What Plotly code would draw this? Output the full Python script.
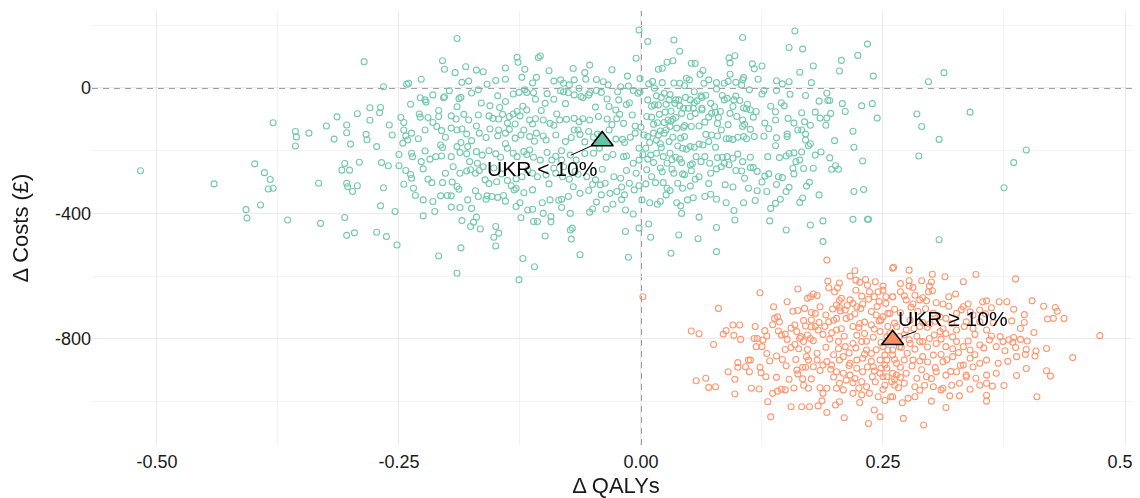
import plotly.graph_objects as go

# ---- Data (Δ QALYs, Δ Costs £) ----
green_pts = [
    # far left
    (-0.517,-264),(-0.441,-306),(-0.399,-242),(-0.389,-270),(-0.383,-292),(-0.385,-322),(-0.380,-320),
    (-0.393,-373),(-0.408,-388),(-0.407,-415),(-0.380,-111),(-0.357,-139),(-0.356,-156),(-0.357,-185),
    (-0.343,-144),(-0.365,-421),(-0.333,-304),(-0.331,-432),(-0.325,-121),(-0.314,-92),(-0.317,-163),
    (-0.304,-118),(-0.304,-143),(-0.300,-179),(-0.293,-82),(-0.286,84),(-0.284,-148),(-0.283,-165),
    (-0.280,-63),(-0.280,-103),(-0.306,-241),(-0.309,-262),(-0.301,-262),(-0.291,-237),(-0.304,-304),
    (-0.303,-315),(-0.293,-312),(-0.298,-330),(-0.306,-413),(-0.304,-470),(-0.296,-462),
    # left-centre
    (-0.190,158),(-0.205,87),(-0.203,60),(-0.192,49),(-0.181,68),(-0.178,22),(-0.163,52),(-0.159,12),
    (-0.140,28),(-0.128,98),(-0.127,82),(-0.120,60),(-0.123,34),(-0.108,34),(-0.106,97),(-0.104,102),
    (-0.266,4),(-0.242,12),(-0.240,15),(-0.227,28),(-0.083,26),(-0.080,15),(-0.074,10),(-0.069,26),
    (-0.064,-1),(-0.058,49),(-0.057,28),(-0.053,73),(-0.054,-22),(-0.039,20),(-0.034,10),(-0.014,38),
    (-0.005,95),(-0.002,185),(-0.024,-12),(-0.021,4),(-0.013,6),(-0.008,-8),(-0.001,-12),
    (-0.228,-31),(-0.223,-38),(-0.222,-45),(-0.204,-31),(-0.203,-28),(-0.198,-9),(-0.188,-34),(-0.186,-30),
    (-0.168,-6),(-0.156,-57),(-0.146,-62),(-0.140,-43),(-0.132,-19),(-0.126,-14),(-0.120,-6),(-0.118,-14),
    (-0.111,-15),(-0.109,-36),(-0.099,-49),(-0.090,-36),(-0.083,-9),(-0.080,-12),(-0.075,-15),(-0.069,-22),
    (-0.060,-31),(-0.053,-15),(-0.046,-8),(-0.035,-35),(-0.023,-38),(-0.033,-59),(-0.026,-70),(-0.012,-47),
    (-0.003,-17),(-0.269,-62),
    (-0.270,-79),(-0.248,-94),(-0.245,-110),(-0.229,-83),(-0.228,-93),(-0.220,-94),(-0.209,-72),(-0.209,-91),
    (-0.196,-89),(-0.191,-99),(-0.183,-84),(-0.178,-102),(-0.168,-86),(-0.157,-89),(-0.153,-97),(-0.147,-99),
    (-0.143,-84),(-0.136,-91),(-0.132,-83),(-0.128,-75),(-0.125,-89),(-0.118,-70),(-0.115,-102),(-0.112,-115),
    (-0.109,-98),(-0.103,-72),(-0.101,-102),(-0.094,-113),(-0.087,-83),(-0.084,-102),(-0.077,-100),(-0.069,-97),
    (-0.060,-98),(-0.053,-102),(-0.044,-91),(-0.035,-99),(-0.025,-98),(-0.022,-84),(-0.018,-113),(-0.009,-86),
    (-0.006,-121),(-0.000,-125),
    (-0.257,-150),(-0.245,-134),(-0.243,-153),(-0.237,-144),(-0.246,-176),(-0.241,-166),(-0.223,-134),(-0.211,-123),
    (-0.206,-136),(-0.207,-182),(-0.202,-157),(-0.196,-128),(-0.190,-134),(-0.185,-131),(-0.186,-174),(-0.180,-147),
    (-0.167,-144),(-0.160,-158),(-0.156,-131),(-0.148,-153),(-0.147,-134),(-0.140,-144),(-0.140,-178),(-0.136,-132),
    (-0.130,-115),(-0.124,-150),(-0.121,-134),(-0.115,-155),(-0.108,-144),(-0.101,-153),(-0.098,-166),(-0.088,-150),
    (-0.078,-171),(-0.069,-134),(-0.065,-134),(-0.063,-148),(-0.054,-139),(-0.049,-157),(-0.045,-147),(-0.041,-150),
    (-0.033,-134),(-0.019,-164),(-0.017,-174),(-0.011,-157),(-0.006,-144),(-0.002,-192),
    (-0.273,-187),(-0.268,-238),(-0.261,-248),(-0.250,-248),(-0.243,-263),(-0.237,-208),(-0.236,-219),(-0.227,-235),
    (-0.223,-201),(-0.218,-227),(-0.205,-190),(-0.206,-217),(-0.196,-219),(-0.194,-251),(-0.190,-187),(-0.187,-206),
    (-0.179,-187),(-0.177,-235),(-0.170,-203),(-0.169,-240),(-0.164,-214),(-0.163,-251),(-0.157,-200),(-0.150,-210),
    (-0.138,-192),(-0.132,-208),(-0.128,-219),(-0.121,-203),(-0.115,-198),(-0.111,-221),(-0.104,-230),(-0.097,-206),
    (-0.092,-230),(-0.082,-200),(-0.082,-230),(-0.080,-251),(-0.073,-214),(-0.067,-230),(-0.049,-208),(-0.043,-192),
    (-0.029,-212),(-0.018,-219),(-0.015,-217),(-0.008,-240),(-0.002,-230),
    (-0.238,-276),(-0.237,-288),(-0.220,-291),(-0.216,-302),(-0.205,-302),(-0.202,-272),(-0.195,-300),(-0.187,-272),
    (-0.176,-261),(-0.171,-272),(-0.167,-263),(-0.161,-293),(-0.149,-299),(-0.144,-274),(-0.138,-295),(-0.129,-290),
    (-0.129,-320),(-0.123,-283),(-0.112,-272),(-0.107,-283),(-0.098,-277),(-0.088,-272),(-0.081,-283),(-0.074,-291),
    (-0.065,-275),(-0.056,-283),(-0.047,-293),(-0.042,-309),(-0.037,-304),(-0.028,-283),(-0.021,-288),(-0.012,-304),
    (-0.005,-272),(-0.002,-312),
    (-0.266,-318),(-0.235,-320),(-0.233,-343),(-0.225,-357),(-0.207,-344),(-0.200,-343),(-0.196,-344),(-0.188,-323),
    (-0.187,-381),(-0.179,-357),(-0.171,-328),(-0.168,-346),(-0.159,-344),(-0.154,-346),(-0.148,-349),(-0.142,-343),
    (-0.140,-361),(-0.131,-325),(-0.121,-334),(-0.112,-325),(-0.102,-366),(-0.094,-357),(-0.082,-355),(-0.075,-346),
    (-0.063,-336),(-0.054,-327),(-0.041,-341),(-0.032,-336),(-0.025,-330),(-0.017,-341),(-0.007,-325),
    (-0.269,-376),(-0.254,-394),(-0.225,-408),(-0.213,-394),(-0.196,-380),(-0.185,-423),(-0.175,-384),(-0.170,-412),
    (-0.173,-428),(-0.176,-442),(-0.166,-450),(-0.150,-442),(-0.147,-463),(-0.152,-476),(-0.129,-378),(-0.124,-414),
    (-0.117,-389),(-0.112,-387),(-0.111,-426),(-0.107,-426),(-0.101,-400),(-0.093,-410),(-0.093,-427),(-0.082,-381),
    (-0.073,-400),(-0.071,-447),(-0.053,-396),(-0.050,-386),(-0.036,-387),(-0.029,-371),(-0.016,-389),(-0.008,-402),
    (-0.002,-447),
    (-0.273,-460),(-0.263,-474),(-0.252,-501),(-0.209,-536),(-0.186,-510),(-0.190,-591),(-0.150,-504),(-0.122,-544),
    (-0.126,-612),(-0.110,-570),(-0.099,-472),(-0.073,-453),(-0.072,-482),(-0.063,-532),(-0.016,-458),(-0.013,-540),
    # right-centre
    (0.007,148),(0.034,153),(0.040,117),(0.018,60),(0.027,82),(0.033,87),(0.052,79),(0.056,78),(0.091,96),
    (0.097,103),(0.092,80),(0.105,161),(0.115,77),(0.106,33),(0.105,26),(0.104,9),(0.090,21),(0.092,44),
    (0.086,15),(0.078,17),(0.078,-3),(0.061,44),(0.065,15),(0.047,31),(0.050,26),(0.045,7),(0.034,16),
    (0.022,17),(0.008,13),(-0.001,30),(0.121,28),
    (0.014,-1),(0.016,-25),(0.024,-17),(0.021,-30),(0.014,-54),(0.018,-54),(0.007,-38),(0.026,-52),(0.029,-38),
    (0.036,-38),(0.039,-38),(0.040,-57),(0.046,-30),(0.051,-38),(0.055,-47),(0.058,-41),(0.062,-25),(0.063,-30),
    (0.067,-23),(0.072,-49),(0.063,-65),(0.044,-65),(0.049,-65),(0.054,-65),(0.084,-24),(0.086,-38),(0.089,-33),
    (0.096,-38),(0.102,-40),(0.112,-6),
    (0.006,-91),(0.011,-93),(0.013,-116),(0.019,-84),(0.025,-77),(0.031,-74),(0.028,-102),(0.033,-100),(0.036,-94),
    (0.031,-106),(0.024,-110),(0.042,-81),(0.051,-91),(0.056,-81),(0.063,-70),(0.073,-81),(0.070,-93),(0.077,-78),
    (0.082,-75),(0.080,-94),(0.079,-113),(0.092,-81),(0.095,-59),(0.099,-91),(0.106,-64),(0.109,-66),(0.113,-70),
    (0.119,-75),(0.116,-93),(0.105,-102),(0.107,-116),(0.105,-123),
    (0.003,-150),(0.007,-155),(0.013,-144),(0.018,-150),(0.020,-137),(0.024,-144),(0.026,-134),(0.030,-123),
    (0.033,-157),(0.037,-128),(0.044,-125),(0.045,-155),(0.052,-123),(0.060,-121),(0.067,-148),(0.073,-150),
    (0.079,-153),(0.083,-134),(0.088,-162),(0.091,-162),(0.100,-157),(0.106,-155),(0.109,-162),(0.113,-132),
    (0.117,-155),(0.009,-174),(0.020,-178),(0.029,-171),(0.038,-185),(0.043,-192),(0.047,-195),(0.051,-187),
    (0.055,-189),(0.060,-179),(0.064,-182),(0.077,-189),
    (0.005,-192),(0.007,-227),(0.010,-214),(0.013,-238),(0.016,-208),(0.021,-190),(0.023,-219),(0.027,-240),
    (0.032,-229),(0.036,-221),(0.040,-227),(0.042,-238),(0.051,-246),(0.053,-242),(0.057,-219),(0.062,-235),
    (0.071,-240),(0.079,-222),(0.086,-240),(0.084,-221),(0.089,-219),(0.095,-224),(0.105,-235),(0.113,-221),
    (0.116,-254),
    (0.006,-261),(0.011,-283),(0.022,-267),(0.032,-259),(0.034,-272),(0.043,-274),(0.045,-277),(0.056,-291),
    (0.060,-283),(0.072,-272),(0.083,-251),(0.091,-245),(0.098,-263),(0.104,-265),(0.113,-254),(0.107,-288),
    (0.015,-302),(0.023,-302),(0.027,-320),(0.030,-327),(0.038,-304),(0.043,-320),(0.087,-309),(0.111,-320),
    (0.120,-328),
    (0.001,-357),(0.009,-366),(0.017,-371),(0.026,-341),(0.037,-366),(0.041,-376),(0.054,-350),(0.066,-346),
    (0.072,-339),(0.078,-355),(0.106,-366),(0.096,-391),(0.042,-400),(0.060,-412),(0.097,-421),
    (0.008,-434),(0.010,-476),(0.039,-469),(0.059,-481),(0.078,-445),(0.031,-527),(0.078,-522),
    # right
    (0.159,182),(0.153,129),(0.167,124),(0.125,70),(0.164,50),(0.178,70),(0.176,17),(0.207,88),(0.224,104),
    (0.205,54),(0.153,20),(0.146,13),(0.140,-8),(0.127,-8),(0.154,-20),(0.145,-47),(0.134,-58),(0.139,-76),
    (0.139,-102),(0.152,-97),(0.166,-79),(0.158,-112),(0.169,-108),(0.162,-134),(0.166,-134),(0.170,-147),
    (0.180,-77),(0.184,-42),(0.192,-17),(0.193,-40),(0.195,-40),(0.185,-96),(0.192,-96),(0.191,-119),
    (0.196,-81),(0.211,-75),(0.219,-138),(0.220,-189),(0.127,-154),(0.132,-130),(0.139,-184),(0.151,-147),
    (0.151,-155),(0.170,-166),(0.173,-184),(0.175,-178),(0.131,-219),(0.150,-217),(0.153,-209),(0.158,-207),
    (0.166,-204),(0.186,-204),(0.195,-223),(0.160,-235),(0.164,-230),(0.157,-256),(0.158,-274),(0.178,-256),
    (0.201,-248),(0.197,-259),(0.204,-259),(0.128,-281),(0.132,-274),(0.142,-283),(0.146,-286),(0.125,-300),
    (0.130,-330),(0.150,-330),(0.153,-317),(0.171,-313),(0.174,-301),(0.184,-341),(0.220,-330),(0.144,-355),
    (0.139,-368),(0.134,-384),(0.164,-365),(0.167,-351),(0.133,-424),(0.150,-453),(0.175,-437),(0.188,-424),
    (0.188,-490),(0.219,-419),
    (0.234,140),(0.240,38),(0.297,20),(0.313,49),(0.228,-57),(0.239,-50),(0.244,-96),(0.285,-83),(0.290,-123),
    (0.308,-164),(0.340,-77),(0.287,-217),(0.229,-233),(0.230,-324),(0.375,-318),(0.385,-238),(0.398,-198),
    (0.235,-419),(0.308,-484),(0.234,-419),
    # dense core (estimated where circles overlap)
    (-0.215,-22),(-0.175,-16),(-0.148,-25),(-0.097,-18),(-0.062,-27),(-0.041,-14),(0.030,-21),(0.055,-12),
    (0.098,-26),(0.125,-19),(0.170,-24),
    (-0.238,-52),(-0.190,-60),(-0.165,-48),(-0.122,-58),(-0.078,-50),(-0.047,-61),(-0.015,-53),(0.011,-58),
    (0.035,-49),(0.076,-60),(0.110,-52),(0.148,-57),(0.208,-50),
    (-0.260,-118),(-0.215,-110),(-0.170,-121),(-0.138,-112),(-0.090,-119),(-0.064,-108),(-0.030,-117),
    (0.017,-111),(0.045,-120),(0.066,-109),(0.090,-117),(0.128,-112),(0.175,-119),
    (-0.230,-162),(-0.175,-168),(-0.130,-160),(-0.110,-170),(-0.072,-158),(-0.058,-172),(-0.026,-163),
    (0.016,-167),(0.041,-160),(0.070,-171),(0.095,-164),(0.140,-159),(0.200,-168),
    (-0.250,-212),(-0.212,-219),(-0.180,-210),(-0.145,-221),(-0.118,-212),(-0.088,-218),(-0.058,-209),
    (-0.036,-221),(0.002,-213),(0.030,-208),(0.066,-219),(0.100,-211),(0.143,-222),(0.180,-214),
    (-0.225,-258),(-0.180,-265),(-0.152,-255),(-0.117,-262),(-0.090,-256),(-0.068,-266),(-0.040,-259),
    (-0.015,-263),(0.020,-255),(0.052,-264),(0.078,-258),(0.120,-266),(0.168,-257),
    (-0.245,-307),(-0.190,-314),(-0.157,-305),(-0.134,-312),(-0.095,-306),(-0.070,-315),(-0.050,-308),
    (-0.020,-316),(0.005,-306),(0.051,-313),(0.070,-305),(0.095,-316),(0.140,-308),
    (-0.215,-362),(-0.160,-355),(-0.125,-366),(-0.085,-358),(-0.046,-364),(-0.020,-356),(0.020,-362),
    (0.048,-357),(0.088,-366),(0.118,-359),
    (-0.185,18),(-0.150,24),(-0.112,16),(-0.090,22),(-0.046,27),(0.012,21),(0.040,15),(0.070,26),
    (0.098,18),(0.140,23),
    (-0.170,57),(-0.140,64),(-0.095,55),(-0.070,62),(-0.030,58),(0.022,63),(0.064,56),(0.117,61),
]

orange_pts = [
    (0.002,-666),
    (0.052,-775),(0.060,-784),(0.075,-818),(0.080,-703),(0.057,-934),(0.067,-926),(0.070,-955),(0.077,-953),
    (0.090,-905),(0.097,-929),(0.097,-976),(0.085,-785),(0.088,-774),(0.095,-756),(0.102,-756),(0.096,-789),
    (0.103,-802),(0.100,-876),(0.100,-891),(0.108,-889),(0.111,-868),(0.113,-868),(0.112,-905),(0.114,-958),
    (0.122,-960),(0.123,-891),(0.124,-908),(0.129,-921),(0.123,-653),(0.118,-761),(0.117,-799),(0.119,-825),
    (0.125,-825),(0.120,-799),(0.126,-804),(0.130,-791),(0.130,-847),(0.128,-774),(0.131,-1001),(0.134,-1049),
    (0.137,-698),(0.136,-755),(0.138,-735),(0.141,-730),(0.143,-746),(0.142,-775),(0.149,-785),(0.151,-802),
    (0.140,-855),(0.146,-866),(0.149,-834),(0.153,-929),(0.136,-974),(0.141,-967),(0.145,-961),(0.149,-963),
    (0.155,-1017),(0.166,-1017),(0.174,-1017),(0.183,-1014),(0.162,-641),(0.151,-682),(0.157,-712),(0.162,-710),
    (0.169,-703),(0.172,-671),(0.175,-666),(0.178,-657),(0.180,-719),(0.176,-740),(0.170,-759),(0.159,-756),
    (0.161,-777),(0.164,-799),(0.159,-818),(0.163,-832),(0.168,-809),(0.172,-788),(0.175,-799),(0.180,-761),
    (0.183,-772),(0.171,-857),(0.167,-891),(0.162,-912),(0.167,-928),(0.161,-900),(0.173,-868),(0.178,-889),
    (0.182,-868),(0.188,-884),(0.173,-958),(0.185,-956),(0.192,-958),(0.202,-958),(0.188,-974),(0.168,-948),
    (0.192,-1035),(0.201,-1011),(0.205,-1001),(0.210,-1052),(0.192,-549),(0.193,-616),(0.194,-637),(0.200,-650),
    (0.203,-637),(0.216,-600),(0.221,-583),(0.222,-613),(0.226,-620),(0.232,-611),(0.234,-629),(0.236,-650),
    (0.222,-645),(0.216,-676),(0.219,-687),(0.207,-671),(0.202,-692),(0.205,-700),(0.211,-708),(0.202,-735),
    (0.194,-746),(0.191,-724),(0.190,-761),(0.202,-772),(0.197,-781),(0.212,-735),(0.216,-730),(0.223,-698),
    (0.229,-689),(0.235,-674),(0.241,-666),(0.245,-650),(0.250,-632),(0.253,-666),(0.260,-575),(0.260,-666),
    (0.219,-761),(0.226,-751),(0.231,-783),(0.238,-756),(0.243,-724),(0.250,-730),(0.257,-719),(0.247,-777),
    (0.254,-793),(0.204,-809),(0.211,-825),(0.219,-815),(0.228,-809),(0.233,-836),(0.209,-857),(0.216,-878),
    (0.223,-868),(0.229,-862),(0.238,-847),(0.247,-868),(0.255,-836),(0.260,-852),(0.197,-884),(0.202,-905),
    (0.209,-910),(0.216,-916),(0.223,-894),(0.229,-905),(0.240,-889),(0.247,-910),(0.254,-894),(0.260,-910),
    (0.205,-942),(0.212,-932),(0.219,-940),(0.228,-937),(0.233,-953),(0.242,-937),(0.250,-921),(0.259,-937),
    (0.219,-974),(0.228,-979),(0.236,-974),(0.245,-985),(0.258,-985),(0.235,-1070),(0.241,-1027),(0.247,-1049),
    (0.261,-572),(0.277,-581),(0.301,-594),(0.314,-602),(0.346,-595),(0.387,-609),(0.277,-615),(0.290,-615),
    (0.277,-632),(0.281,-636),(0.283,-661),(0.298,-632),(0.297,-650),(0.301,-647),(0.260,-666),(0.268,-650),
    (0.274,-676),(0.281,-689),(0.288,-676),(0.291,-669),(0.305,-685),(0.312,-689),(0.325,-657),(0.333,-618),
    (0.338,-689),(0.353,-682),(0.357,-679),(0.370,-682),(0.378,-682),(0.385,-706),(0.404,-679),(0.416,-696),
    (0.428,-700),(0.430,-712),(0.420,-737),(0.426,-735),(0.437,-735),(0.396,-723),(0.396,-748),(0.406,-780),
    (0.392,-802),(0.399,-807),(0.385,-796),(0.384,-811),(0.387,-828),(0.376,-838),(0.388,-857),(0.397,-850),
    (0.407,-855),(0.408,-839),(0.419,-831),(0.446,-860),(0.474,-790),(0.398,-895),(0.388,-917),(0.419,-902),
    (0.423,-919),(0.375,-949),(0.363,-951),(0.357,-942),(0.357,-980),(0.357,-999),(0.409,-985),
    (0.250,-645),(0.253,-687),(0.255,-719),(0.248,-740),(0.264,-761),(0.274,-772),(0.288,-761),(0.298,-753),
    (0.309,-777),(0.315,-783),(0.326,-772),(0.336,-746),(0.343,-767),(0.350,-746),(0.357,-772),(0.364,-749),
    (0.371,-793),(0.309,-730),(0.315,-735),(0.326,-719),(0.333,-698),(0.343,-724),(0.350,-708),
    (0.250,-825),(0.260,-836),(0.267,-825),(0.278,-815),(0.288,-809),(0.298,-799),(0.305,-815),(0.315,-825),
    (0.326,-809),(0.333,-825),(0.340,-836),(0.350,-820),(0.360,-804),(0.367,-825),(0.374,-809),
    (0.254,-868),(0.264,-878),(0.272,-868),(0.281,-868),(0.291,-857),(0.302,-852),(0.312,-873),(0.322,-857),
    (0.333,-884),(0.340,-862),(0.350,-878),(0.357,-868),(0.369,-878),
    (0.248,-894),(0.254,-921),(0.264,-916),(0.274,-910),(0.285,-926),(0.295,-921),(0.305,-905),(0.315,-916),
    (0.326,-905),(0.336,-916),(0.346,-926),(0.357,-916),(0.367,-910),
    (0.252,-948),(0.262,-948),(0.272,-942),(0.283,-953),(0.293,-948),(0.302,-953),(0.310,-963),(0.321,-948),
    (0.329,-942),(0.340,-961),(0.350,-948),(0.260,-985),(0.276,-990),(0.283,-985),(0.319,-982),(0.329,-982),
    (0.271,-1054),(0.292,-1075),(0.315,-1019),(0.257,-783),(0.267,-793),
    # dense core (estimated where circles overlap)
    (0.185,-698),(0.198,-705),(0.213,-694),(0.227,-703),(0.244,-697),(0.262,-706),(0.279,-699),(0.294,-704),
    (0.318,-696),(0.331,-707),(0.362,-701),
    (0.176,-716),(0.206,-711),(0.221,-720),(0.238,-713),(0.268,-717),(0.286,-712),(0.302,-719),(0.340,-714),
    (0.356,-720),
    (0.168,-742),(0.184,-748),(0.199,-741),(0.231,-747),(0.246,-743),(0.262,-750),(0.278,-741),(0.291,-748),
    (0.304,-744),(0.321,-751),(0.383,-743),
    (0.155,-766),(0.176,-762),(0.207,-768),(0.225,-764),(0.241,-769),(0.255,-761),(0.282,-767),(0.296,-763),
    (0.312,-768),(0.334,-761),(0.392,-767),
    (0.145,-788),(0.165,-793),(0.188,-786),(0.210,-792),(0.223,-789),(0.240,-795),(0.272,-787),(0.285,-792),
    (0.303,-788),(0.322,-794),(0.345,-786),(0.362,-791),
    (0.178,-806),(0.195,-801),(0.233,-808),(0.248,-812),(0.277,-803),(0.291,-809),(0.310,-801),(0.338,-807),
    (0.380,-803),
    (0.155,-828),(0.172,-834),(0.191,-827),(0.204,-832),(0.222,-829),(0.243,-835),(0.269,-828),(0.283,-833),
    (0.296,-826),(0.322,-832),(0.354,-829),(0.398,-834),
    (0.182,-846),(0.199,-851),(0.215,-845),(0.231,-849),(0.252,-852),(0.275,-846),(0.310,-850),(0.328,-844),
    (0.345,-851),
    (0.133,-871),(0.160,-866),(0.192,-873),(0.205,-868),(0.238,-872),(0.262,-866),(0.288,-871),(0.296,-874),
    (0.316,-867),(0.379,-872),
    (0.150,-886),(0.170,-891),(0.215,-885),(0.234,-890),(0.252,-884),(0.268,-891),(0.280,-887),(0.304,-892),
    (0.330,-885),(0.343,-890),
    (0.185,-901),(0.196,-897),(0.241,-903),(0.290,-899),(0.320,-904),
    (0.140,-923),(0.176,-928),(0.199,-922),(0.221,-927),(0.239,-921),(0.262,-929),(0.268,-923),(0.300,-927),
    (0.336,-922),
    (0.158,-957),(0.209,-963),(0.225,-958),(0.250,-962),(0.266,-956),(0.288,-964),(0.312,-958),
    (0.187,-998),(0.226,-1003),(0.252,-997),(0.270,-1004),(0.300,-999),
    (0.182,-662),(0.205,-678),(0.228,-664),(0.246,-681),(0.272,-663),(0.295,-679),(0.318,-666),
    (0.205,-622),(0.242,-618),(0.268,-624),(0.300,-619),
]

# group means (triangles) and labels
mean_qaly = [-0.040, 0.260]
mean_cost = [-169, -803]
label_text = ["UKR &lt; 10%", "UKR ≥ 10%"]
label_qaly = [-0.102, 0.322]
label_cost = [-256, -735]

colors = ["#66C2A5", "#FC8D62"]

fig = go.Figure()
for pts, col in [(green_pts, colors[0]), (orange_pts, colors[1])]:
    xs = [p[0] for p in pts]
    ys = [p[1] for p in pts]
    fig.add_trace(go.Scatter(
        x=xs, y=ys, mode="markers", hoverinfo="skip",
        marker=dict(symbol="circle-open", size=6, color=col, line=dict(width=1.1)),
        opacity=0.9, showlegend=False))

for i in range(2):
    fig.add_trace(go.Scatter(
        x=[mean_qaly[i]], y=[mean_cost[i]], mode="markers", showlegend=False,
        marker=dict(symbol="triangle-up", size=19, color=colors[i],
                    line=dict(color="black", width=1.6))))
    fig.add_annotation(
        x=mean_qaly[i], y=mean_cost[i], xref="x", yref="y",
        ax=label_qaly[i], ay=label_cost[i], axref="x", ayref="y",
        text=label_text[i], showarrow=True, arrowhead=0, arrowwidth=1,
        arrowcolor="black", standoff=10,
        font=dict(family="Liberation Sans, Arial, sans-serif", size=21, color="black"))

dash_style = dict(color="#444444", width=1.1, dash="6px,5px")
fig.add_shape(type="line", xref="x", yref="paper", x0=0, x1=0, y0=0, y1=1,
              line=dash_style, layer="between")
fig.add_shape(type="line", xref="paper", yref="y", x0=0, x1=1, y0=0, y1=0,
              line=dash_style, layer="between")

font_family = "Liberation Sans, Arial, sans-serif"
# the page body has an 8px margin, so the figure is sized to fill the rest of the window
fig.update_layout(
    width=1132, height=490,
    margin=dict(l=84, r=0, t=3, b=53, autoexpand=False),
    paper_bgcolor="white", plot_bgcolor="white",
    font=dict(family=font_family, color="#1a1a1a"),
    xaxis=dict(
        range=[-0.5671, 0.5155], automargin=False,
        tickvals=[-0.5, -0.25, 0, 0.25, 0.5],
        ticktext=["-0.50", "-0.25", "0.00", "0.25", "0.50"],
        ticklabeloverflow="allow", ticklabelstandoff=4,
        tickfont=dict(size=18, color="#1a1a1a"),
        showgrid=True, gridcolor="#EBEBEB", gridwidth=1,
        minor=dict(tickvals=[-0.375, -0.125, 0.125, 0.375], showgrid=True,
                   gridcolor="#F3F3F3", gridwidth=1),
        zeroline=False, showline=False, ticks="",
        title=dict(text="Δ QALYs", font=dict(size=22, color="#1a1a1a"), standoff=12),
    ),
    yaxis=dict(
        range=[-1138.8, 245.6], automargin=False,
        tickvals=[-800, -400, 0],
        ticktext=["-800", "-400", "0"],
        tickfont=dict(size=18, color="#1a1a1a"),
        showgrid=True, gridcolor="#EBEBEB", gridwidth=1,
        minor=dict(tickvals=[-1000, -600, -200, 200], showgrid=True,
                   gridcolor="#F3F3F3", gridwidth=1),
        zeroline=False, showline=False, ticks="",
        title=dict(text="Δ Costs (£)", font=dict(size=22, color="#1a1a1a"), standoff=20),
    ),
)

fig.write_html("out.html")
